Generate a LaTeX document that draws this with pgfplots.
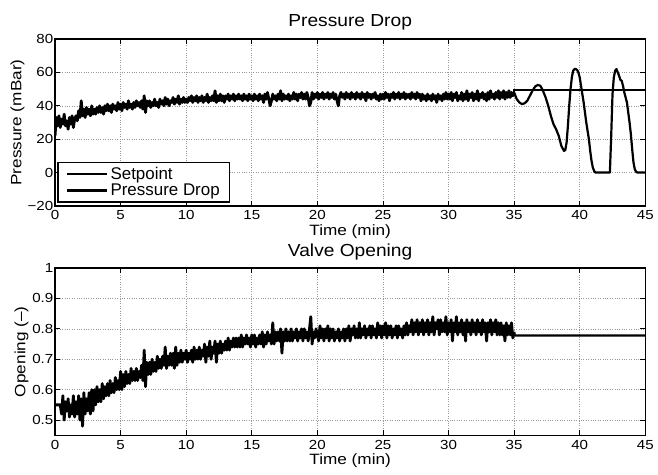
\documentclass[border=0pt]{standalone}
\usepackage{fontspec}
\setmainfont{Liberation Sans}
\newfontfamily\tickfont{Liberation Sans}[FakeStretch=1.15]
\newfontfamily\labfont{Liberation Sans}[FakeStretch=1.15]
\newfontfamily\titfont{Liberation Sans}[FakeStretch=1.1]
\usepackage{pgfplots}
\pgfplotsset{compat=1.18}
\usepackage{pgfplotstable}

\pgfplotstableread{
t p v
0.0 22 0.55
0.1 33 0.55
0.2 28 0.55
0.3 34 0.55
0.4 27 0.55
0.5 32 0.52
0.6 29 0.58
0.7 35 0.50
0.8 28 0.56
0.9 31 0.53
1.0 26 0.57
1.1 33 0.51
1.2 29 0.55
1.3 34 0.52
1.4 27 0.58
1.5 32 0.51
1.6 34 0.56
1.7 31 0.52
1.8 37 0.58
1.9 33 0.50
2.0 43 0.57
2.1 34 0.48
2.2 38 0.59
2.3 33 0.52
2.4 39 0.57
2.5 35 0.53
2.6 38 0.59
2.7 34 0.52
2.8 40 0.60
2.9 35 0.53
3.0 38 0.60
3.1 35 0.55
3.2 39 0.61
3.3 36 0.56
3.4 40 0.60
3.5 36 0.56
3.6 39 0.62
3.7 35 0.57
3.8 40 0.61
3.9 37 0.58
4.0 41 0.62
4.1 37 0.58
4.2 40 0.63
4.3 36 0.59
4.4 41 0.62
4.5 38 0.59
4.6 40 0.64
4.7 37 0.60
4.8 42 0.63
4.9 38 0.60
5.0 41 0.66
5.1 37 0.60
5.2 42 0.65
5.3 39 0.61
5.4 41 0.66
5.5 38 0.62
5.6 43 0.65
5.7 39 0.62
5.8 41 0.67
5.9 38 0.63
6.0 42 0.66
6.1 39 0.63
6.2 43 0.67
6.3 40 0.63
6.4 42 0.66
6.5 39 0.64
6.6 43 0.68
6.7 38 0.63
6.8 46 0.73
6.9 36 0.61
7.0 43 0.69
7.1 40 0.65
7.2 43 0.69
7.3 39 0.65
7.4 42 0.70
7.5 40 0.66
7.6 44 0.69
7.7 40 0.66
7.8 42 0.71
7.9 39 0.67
8.0 44 0.70
8.1 41 0.67
8.2 43 0.71
8.3 40 0.68
8.4 45 0.74
8.5 41 0.67
8.6 44 0.71
8.7 40 0.68
8.8 43 0.72
8.9 42 0.68
9.0 45 0.72
9.1 41 0.67
9.2 44 0.74
9.3 42 0.68
9.4 46 0.72
9.5 41 0.69
9.6 44 0.73
9.7 42 0.69
9.8 45 0.72
9.9 42 0.70
10.0 44 0.73
10.1 42 0.69
10.2 45 0.72
10.3 43 0.70
10.4 46 0.73
10.5 42 0.69
10.6 45 0.74
10.7 43 0.70
10.8 46 0.73
10.9 42 0.70
11.0 45 0.74
11.1 43 0.70
11.2 46 0.73
11.3 42 0.71
11.4 45 0.75
11.5 43 0.69
11.6 47 0.74
11.7 42 0.71
11.8 45 0.76
11.9 43 0.70
12.0 46 0.74
12.1 43 0.72
12.2 49 0.76
12.3 42 0.69
12.4 46 0.75
12.5 43 0.72
12.6 47 0.76
12.7 43 0.72
12.8 46 0.75
12.9 42 0.73
13.0 46 0.76
13.1 44 0.73
13.2 47 0.77
13.3 43 0.73
13.4 46 0.76
13.5 44 0.74
13.6 47 0.77
13.7 43 0.74
13.8 46 0.77
13.9 44 0.74
14.0 47 0.77
14.1 44 0.74
14.2 46 0.78
14.3 43 0.74
14.4 47 0.77
14.5 44 0.75
14.6 46 0.78
14.7 43 0.75
14.8 47 0.77
14.9 44 0.74
15.0 46 0.78
15.1 43 0.75
15.2 47 0.78
15.3 44 0.74
15.4 46 0.77
15.5 43 0.75
15.6 47 0.78
15.7 44 0.75
15.8 46 0.79
15.9 42 0.74
16.0 47 0.78
16.1 44 0.75
16.2 48 0.79
16.3 44 0.76
16.4 40 0.78
16.5 43 0.75
16.6 47 0.82
16.7 44 0.75
16.8 46 0.79
16.9 43 0.76
17.0 47 0.79
17.1 44 0.76
17.2 49 0.80
17.3 43 0.72
17.4 47 0.79
17.5 44 0.76
17.6 46 0.80
17.7 44 0.76
17.8 47 0.79
17.9 43 0.76
18.0 46 0.80
18.1 44 0.76
18.2 48 0.79
18.3 44 0.77
18.4 47 0.80
18.5 43 0.76
18.6 47 0.79
18.7 45 0.77
18.8 48 0.80
18.9 44 0.76
19.0 47 0.80
19.1 44 0.77
19.2 48 0.79
19.3 45 0.76
19.4 40 0.80
19.5 42 0.84
19.6 48 0.75
19.7 44 0.79
19.8 47 0.77
19.9 45 0.80
20.0 48 0.78
20.1 44 0.76
20.2 47 0.81
20.3 45 0.77
20.4 48 0.80
20.5 44 0.76
20.6 47 0.80
20.7 45 0.77
20.8 48 0.81
20.9 44 0.76
21.0 47 0.80
21.1 45 0.77
21.2 48 0.80
21.3 44 0.76
21.4 47 0.79
21.5 43 0.77
21.6 40 0.80
21.7 46 0.76
21.8 48 0.79
21.9 45 0.77
22.0 47 0.80
22.1 44 0.76
22.2 48 0.80
22.3 45 0.77
22.4 47 0.81
22.5 44 0.76
22.6 48 0.80
22.7 45 0.78
22.8 47 0.81
22.9 44 0.77
23.0 48 0.80
23.1 45 0.77
23.2 47 0.82
23.3 44 0.77
23.4 48 0.80
23.5 45 0.78
23.6 47 0.81
23.7 43 0.77
23.8 48 0.80
23.9 45 0.78
24.0 47 0.81
24.1 44 0.77
24.2 47 0.81
24.3 45 0.78
24.4 48 0.80
24.5 44 0.77
24.6 46 0.82
24.7 43 0.78
24.8 47 0.81
24.9 44 0.77
25.0 47 0.81
25.1 44 0.78
25.2 48 0.82
25.3 45 0.77
25.4 47 0.81
25.5 43 0.78
25.6 47 0.81
25.7 45 0.77
25.8 48 0.80
25.9 44 0.78
26.0 47 0.81
26.1 45 0.77
26.2 48 0.81
26.3 44 0.78
26.4 47 0.80
26.5 45 0.77
26.6 48 0.81
26.7 44 0.78
26.8 47 0.82
26.9 45 0.78
27.0 47 0.81
27.1 44 0.79
27.2 48 0.83
27.3 45 0.78
27.4 47 0.82
27.5 44 0.79
27.6 48 0.83
27.7 45 0.78
27.8 47 0.82
27.9 43 0.79
28.0 47 0.83
28.1 44 0.78
28.2 46 0.82
28.3 43 0.79
28.4 47 0.83
28.5 44 0.78
28.6 46 0.82
28.7 43 0.79
28.8 47 0.84
28.9 44 0.78
29.0 46 0.82
29.1 42 0.80
29.2 47 0.83
29.3 44 0.78
29.4 46 0.83
29.5 43 0.79
29.6 47 0.82
29.7 44 0.79
29.8 48 0.84
29.9 44 0.78
30.0 47 0.82
30.1 44 0.79
30.2 48 0.83
30.3 43 0.76
30.4 47 0.82
30.5 45 0.79
30.6 48 0.84
30.7 43 0.78
30.8 46 0.82
30.9 44 0.79
31.0 48 0.83
31.1 43 0.78
31.2 47 0.82
31.3 44 0.76
31.4 49 0.83
31.5 43 0.79
31.6 47 0.82
31.7 45 0.78
31.8 48 0.83
31.9 43 0.79
32.0 47 0.82
32.1 44 0.78
32.2 49 0.83
32.3 43 0.79
32.4 47 0.82
32.5 45 0.78
32.6 48 0.83
32.7 44 0.79
32.8 47 0.82
32.9 43 0.76
33.0 48 0.82
33.1 44 0.79
33.2 49 0.83
33.3 45 0.78
33.4 47 0.82
33.5 44 0.79
33.6 48 0.83
33.7 45 0.78
33.8 49 0.82
33.9 44 0.78
34.0 48 0.82
34.1 45 0.78
34.2 49 0.81
34.3 44 0.76
34.4 48 0.82
34.5 45 0.78
34.6 49 0.81
34.7 45 0.78
34.8 48 0.82
34.9 46 0.77
35.0 48 0.79
}\dataA

\pgfplotstableread{
t p
35.0 48
35.2 44
35.4 42
35.6 41
35.8 41.5
36.0 43
36.2 46
36.4 49
36.6 51.5
36.8 52.5
37.0 52
37.2 49
37.4 45
37.6 40
37.8 34
38.0 29
38.2 26
38.4 22
38.6 16
38.8 13
38.9 13.5
39.0 18
39.1 28
39.2 40
39.3 50
39.4 57
39.5 61
39.6 62
39.7 62
39.8 61.5
39.9 60
40.0 57
40.1 52
40.2 47
40.3 42
40.4 36
40.5 30
40.6 25
40.7 20
40.8 13
40.9 7
41.0 3
41.1 1
41.2 0
42.3 0
42.4 22
42.5 47
42.6 57
42.7 61
42.8 62
42.9 60
43.0 58
43.1 55.5
43.2 55
43.3 52
43.4 48
43.5 45
43.6 42
43.7 36
43.8 30
43.9 23
44.0 14
44.1 6
44.2 2
44.3 0.5
44.4 0
45.0 0
}\dataB

\pgfplotstableread{
t v
35.0 0.79
35.05 0.778
45.0 0.778
}\dataC

\pgfplotstableread{
t s
35.0 46
35.0 49.5
45.0 49.5
}\dataS

\begin{document}
\begin{tikzpicture}
\useasboundingbox (0bp,0bp) rectangle (658bp,475bp);
\pgfplotsset{
  mstyle/.style={
    scale only axis, width=590.3bp,
    anchor=south west,
    xmin=0, xmax=45, xtick={0,5,...,45},
    xticklabels={0,5,10,15,20,25,30,35,40,45},
    tick align=inside, tick pos=both,
    xmajorgrids, ymajorgrids,
    grid style={dotted, black!40, line width=0.6bp},
    axis line style={line width=1.5bp},
    major tick length=5bp,
    every tick/.style={black, line width=0.8bp},
    tick label style={font=\tickfont\fontsize{13.2}{16}\selectfont},
    xticklabel style={inner sep=4.5bp},
    yticklabel style={inner sep=1.5bp},
    label style={font=\labfont\fontsize{15}{18}\selectfont, inner sep=0pt},
    title style={font=\titfont\fontsize{17.5}{21}\selectfont, inner sep=0pt, anchor=base},
    xlabel={Time (min)},
    xlabel style={at={(axis description cs:0.5,-0.108)}, anchor=north},
  }
}
\begin{axis}[mstyle, at={(55bp,269bp)}, height=167bp,
  ymin=-20, ymax=80, ytick={-20,0,20,40,60,80},
  yticklabels={−20,0,20,40,60,80},
  title={Pressure Drop},
  title style={at={(axis description cs:0.5,1.038)}},
  ylabel={Pressure (mBar)},
  ylabel style={at={(axis description cs:-0.0635,0.5)}, anchor=center},
  legend style={at={(axis description cs:0.0034,0.018)}, anchor=south west,
    draw=black, line width=1.5bp, fill=white,
    font=\fontsize{17}{20}\selectfont, inner xsep=8bp, inner ysep=3bp,
    row sep=-1bp},
  legend cell align=left,
  legend image code/.code={\path (0bp,0bp) -- (40bp,0bp);\draw[black, line width=2bp] (3bp,0.3bp) -- (33bp,0.3bp);},
]
\addplot[black, line width=2.2bp] table[x=t, y=s] {\dataS};
\addlegendentry{Setpoint}
\addplot[black, line width=2.8bp, line join=round] table[x=t, y=p] {\dataA};
\addlegendentry{Pressure Drop}
\addplot[black, line width=2.2bp, line join=round, forget plot] table[x=t, y=p] {\dataB};
\end{axis}

\begin{axis}[mstyle, at={(55bp,39.7bp)}, height=167.3bp,
  ymin=0.45, ymax=1, ytick={0.5,0.6,0.7,0.8,0.9,1},
  yticklabels={0.5,0.6,0.7,0.8,0.9,1},
  title={Valve Opening},
  title style={at={(axis description cs:0.5,1.033)}},
  ylabel={Opening (–)},
  ylabel style={at={(axis description cs:-0.0567,0.5)}, anchor=center},
]
\addplot[black, line width=2.8bp, line join=round] table[x=t, y=v] {\dataA};
\addplot[black, line width=2.2bp, line join=round] table[x=t, y=v] {\dataC};
\end{axis}
\end{tikzpicture}
\end{document}
